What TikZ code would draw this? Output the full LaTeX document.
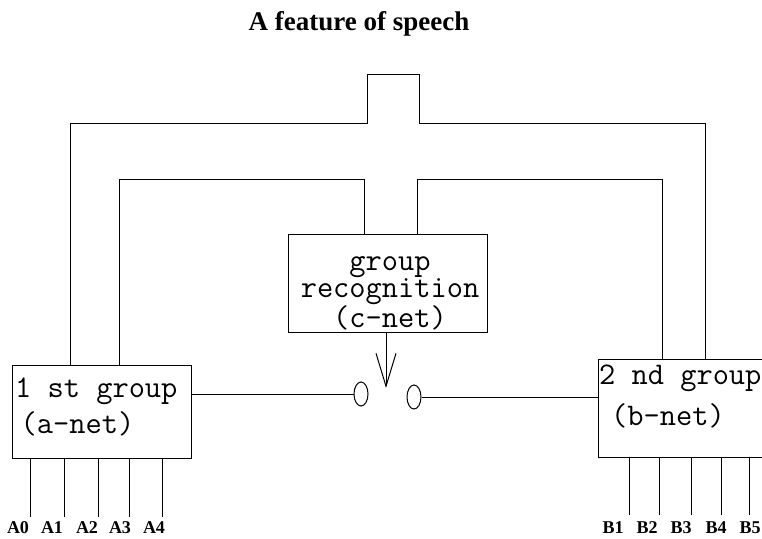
\documentclass[tikz,border=0pt]{standalone}
\usepackage{fontspec}
\newfontfamily\titlefont{Liberation Serif}
\usetikzlibrary{arrows.meta}
\usetikzlibrary{shapes.geometric}
\tikzset{>=latex}
\tikzset{
	netbox/.style={draw,line width=1pt,inner sep=0},
	boxtext/.style={inner sep=0,font=\ttfamily\fontsize{31.5}{27.5}\selectfont},
	pinlbl/.style={anchor=base,inner sep=0,font=\titlefont\bfseries\fontsize{18}{18}\selectfont},
	contact/.style={draw,ellipse,line width=1pt,inner sep=0,minimum width=14,minimum height=24},
	wire/.style={line width=1pt},
	switcharr/.style={wire,-{Straight Barb[length=33pt,width=20pt,line width=1pt]}}
}

\begin{document}
\begin{tikzpicture}[x=1pt,y=-1pt]
	\useasboundingbox (0,0) rectangle (762,538);
	
	% TITLE
	\node[anchor=base,inner sep=0,font=\titlefont\bfseries\fontsize{27}{27}\selectfont] (title) at (359,30) {A feature of speech};
	
	% BOXES
	\node[netbox,minimum width=179,minimum height=93] (anet) at (101.5,411.5) {};
	\node[netbox,minimum width=172,minimum height=98] (bnet) at (684,408) {};
	\node[netbox,minimum width=199,minimum height=98] (cnet) at (387.5,283) {};
	
	\node[boxtext,anchor=base west] (aline1) at (15,397) {1 st group};
	\node[boxtext,anchor=base west] (aline2) at (20.5,433) {(a-net)};
	\node[boxtext,anchor=base west] (bline1) at (599,384) {2 nd group};
	\node[boxtext,anchor=base west] (bline2) at (611,425) {(b-net)};
	\node[boxtext,align=center,anchor=north] (ctext) at (390,256) {group\\recognition\\(c-net)};
	
	% OUTER LINE (with bump)
	\coordinate (oL) at (70,123);
	\coordinate (bL) at (367,123);
	\coordinate (bR) at (419,123);
	\coordinate (oR) at (705,123);
	\draw[wire] (oL |- anet.north) -- (oL) -- (bL) -- (367,74) -- (419,74) -- (bR) -- (oR) -- (oR |- bnet.north);
	
	% INNER LINES
	\draw[wire] (119,0 |- anet.north) |- (364,179) -- (364,0 |- cnet.north);
	\draw[wire] (417,0 |- cnet.north) |- (662,179) -- (662,0 |- bnet.north);
	
	% SWITCH
	\node[contact] (swL) at (361,394) {};
	\node[contact] (swR) at (414,397) {};
	\draw[wire] (anet.east |- swL.west) -- (swL.west);
	\draw[wire] (swR.east) -- (bnet.west |- swR.east);
	\coordinate (tip) at (386,388);
	\draw[switcharr] (tip |- cnet.south) -- (tip);
	
	% INPUTS
	\foreach \x/\lx/\t in {30/18/A0,64/52/A1,98/87/A2,129/120/A3,162/154/A4}{
		\draw[wire] (\x,0 |- anet.south) -- (\x,517);
		\node[pinlbl] (lbl\t) at (\lx,533) {\t};
	}
	\foreach \x/\lx/\t in {629/613/B1,659/647/B2,691/681/B3,721/716/B4,749/750/B5}{
		\draw[wire] (\x,0 |- bnet.south) -- (\x,515);
		\node[pinlbl] (lbl\t) at (\lx,533) {\t};
	}
	
\end{tikzpicture}
\end{document}
